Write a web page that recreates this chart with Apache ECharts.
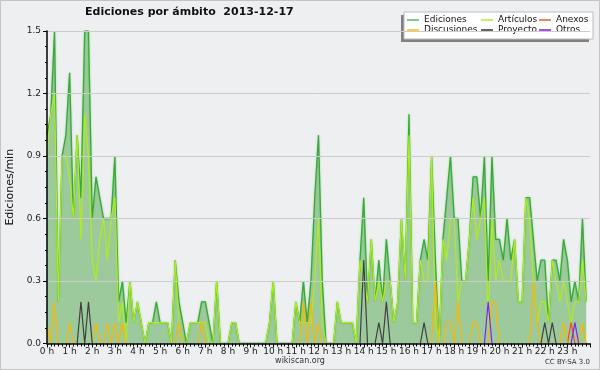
<!DOCTYPE html>
<html>
<head>
<meta charset="utf-8">
<script src="https://cdn.jsdelivr.net/npm/echarts@6/dist/echarts.min.js"></script>
<style>html,body{margin:0;padding:0;background:#eeeff1;}#c{width:600px;height:370px;}</style>
</head>
<body>
<div id="c"></div>
<script>
// 10-minute bins, values in edits/min
const ediciones = [
1.0,1.1,1.5,0.2,0.9,1.0,1.3,0.6,1.0,0.7,1.5,1.5,
0.6,0.8,0.7,0.6,0.6,0.6,0.9,0.2,0.3,0.1,0.3,0.1,
0.2,0.1,0,0.1,0.1,0.2,0.1,0.1,0.1,0,0.4,0.2,
0.1,0,0.1,0.1,0.1,0.2,0.2,0.1,0,0.3,0,0,
0,0.1,0.1,0,0,0,0,0,0,0,0,0.1,
0.3,0,0,0,0,0,0.2,0.1,0.3,0.1,0.3,0.7,
1.0,0.3,0,0,0,0.2,0.1,0.1,0.1,0.1,0,0.4,
0.7,0.2,0.5,0.2,0.4,0.2,0.5,0.3,0.1,0.2,0.6,0.3,
1.1,0.1,0.1,0.4,0.5,0.4,0.9,0.4,0,0.5,0.7,0.9,
0.6,0.6,0.3,0.3,0.5,0.8,0.8,0.6,0.9,0.3,0.9,0.5,
0.5,0.4,0.6,0.4,0.5,0.2,0.2,0.7,0.7,0.5,0.3,0.4,
0.4,0.1,0.4,0.4,0.3,0.5,0.4,0.2,0.3,0.2,0.6,0.2
];
const articulos = [
0.9,1.1,1.2,0.2,0.9,0.9,0.8,0.6,1.0,0.5,1.1,0.9,
0.4,0.3,0.5,0.6,0.4,0.6,0.7,0.1,0.2,0,0.3,0.1,
0.2,0.1,0,0.1,0.1,0.1,0.1,0.1,0.1,0,0.4,0.1,
0,0,0.1,0.1,0.1,0.1,0.1,0,0,0.3,0,0,
0,0.1,0.1,0,0,0,0,0,0,0,0,0.1,
0.3,0,0,0,0,0,0.2,0.1,0.1,0.1,0.1,0.3,
0.6,0.1,0,0,0,0.2,0.1,0.1,0.1,0.1,0,0.4,
0.3,0.2,0.5,0.2,0.3,0.2,0.3,0.3,0.1,0.2,0.6,0.3,
1.0,0.1,0.1,0.4,0.3,0.3,0.9,0.1,0,0.5,0.4,0.6,
0.6,0.2,0.3,0.3,0.5,0.7,0.5,0.6,0.7,0.1,0.6,0.3,
0.4,0.3,0.3,0.3,0.5,0.2,0.2,0.7,0.6,0.3,0.1,0.2,
0.2,0.1,0.4,0.3,0.2,0.3,0.2,0.1,0.2,0.2,0.4,0.2
];
const zeros = () => new Array(144).fill(0);
const discusiones = zeros();
[[0,0.1],[2,0.2],[6,0.1],[13,0.1],[16,0.1],[18,0.1],[20,0.1],[35,0.1],[41,0.1],
 [68,0.2],[70,0.2],[72,0.1],[103,0.3],[106,0.1],[107,0.1],[109,0.2],[113,0.1],[114,0.1],
 [118,0.2],[119,0.2],[129,0.3],[130,0.1],[137,0.1],[142,0.1]].forEach(([i,v])=>discusiones[i]=v);
const proyecto = zeros();
[[9,0.2],[11,0.2],[84,0.4],[88,0.1],[90,0.2],[100,0.1],[132,0.1],[134,0.1]].forEach(([i,v])=>proyecto[i]=v);
const anexos = zeros();
[[139,0.1]].forEach(([i,v])=>anexos[i]=v);
const otros = zeros();
[[117,0.2],[140,0.1]].forEach(([i,v])=>otros[i]=v);

const binsPerHour = 6;
const yTicks = [0, 0.3, 0.6, 0.9, 1.2, 1.5];

const toPairs = arr => arr.map((v,i)=>[i/binsPerHour, v]);
const FONT = 'DejaVu Sans';

const chart = echarts.init(document.getElementById('c'), null, {renderer:'canvas'});
const lineSeries = (name, data, color, z, extra) => Object.assign({
  name, type:'line', data: toPairs(data), symbol:'none', z,
  lineStyle:{color, width:1.2}, itemStyle:{color}, animation:false
}, extra||{});

const legendBase = {
  orient:'vertical', itemWidth:12, itemHeight:2, itemGap:0, icon:'rect', padding:0,
  textStyle:{fontFamily:FONT, fontSize:9, color:'#111', lineHeight:10, padding:[0,0,0,0]},
  selectedMode:false
};

chart.setOption({
  backgroundColor:'#eeeff1',
  animation:false,
  title:{text:'Ediciones por ámbito  2013-12-17', left:85, top:7, padding:0,
    textStyle:{fontFamily:FONT, fontSize:11, fontWeight:'bold', color:'#111'}},
  grid:{left:47, right:10, top:31, bottom:26.5, containLabel:false, outerBoundsMode:'none'},
  xAxis:{type:'value', min:0, max:24, interval:1, z:5,
    axisLine:{show:true, lineStyle:{color:'#000', width:1.5}},
    axisTick:{show:true, length:4, lineStyle:{color:'#000'}},
    minorTick:{show:true, splitNumber:6, length:3, lineStyle:{color:'#000'}},
    splitLine:{show:false},
    axisLabel:{fontFamily:FONT, fontSize:9, color:'#222', margin:4, showMaxLabel:false,
      formatter:v=> v>=24 ? '' : v+' h'}},
  yAxis:{type:'value', min:yTicks[0], max:yTicks[yTicks.length-1], interval:0.3, z:5,
    name:'Ediciones/min', nameLocation:'middle', nameGap:31, nameRotate:90,
    nameTextStyle:{fontFamily:FONT, fontSize:11, color:'#111'},
    axisLine:{show:true, lineStyle:{color:'#000', width:1.5}},
    axisTick:{show:true, length:4, lineStyle:{color:'#000'}},
    minorTick:{show:true, splitNumber:4, length:2, lineStyle:{color:'#000'}},
    splitLine:{show:true, lineStyle:{color:'#cccccc', width:1}},
    axisLabel:{fontFamily:FONT, fontSize:9, color:'#222', margin:6, formatter:v=>v.toFixed(1)}},
  legend:[
    Object.assign({}, legendBase, {left:407, top:15, data:[
      {name:'Ediciones', itemStyle:{color:'#80cc80'}},
      {name:'Discusiones', itemStyle:{color:'#ffcc44'}}]}),
    Object.assign({}, legendBase, {left:481, top:15, data:[
      {name:'Artículos', itemStyle:{color:'#ccee66'}},
      {name:'Proyecto', itemStyle:{color:'#666666'}}]}),
    Object.assign({}, legendBase, {left:539, top:15, data:[
      {name:'Anexos', itemStyle:{color:'#ee8855'}},
      {name:'Otros', itemStyle:{color:'#9955ee'}}]})
  ],
  graphic:[
    {type:'rect', shape:{x:0.5,y:0.5,width:599,height:369}, style:{fill:'none', stroke:'#c4c4c4'}, z:-1, silent:true},
    {type:'rect', shape:{x:401,y:15,width:188,height:27}, style:{fill:'#808080'}, z:0, silent:true},
    {type:'rect', shape:{x:404,y:12,width:189,height:27}, style:{fill:'#ffffff', stroke:'#bbbbbb'}, z:0, silent:true},
    {type:'text', x:300, y:361, style:{text:'wikiscan.org', fontFamily:FONT, fontSize:8, fill:'#333', align:'center', verticalAlign:'middle'}, silent:true},
    {type:'text', x:590, y:362, style:{text:'CC BY-SA 3.0', fontFamily:FONT, fontSize:7, fill:'#333', align:'right', verticalAlign:'middle'}, silent:true}
  ],
  series:[
    lineSeries('Ediciones', ediciones, '#3aa83a', 2, {
      areaStyle:{color:'#9dca9c', opacity:1},
      lineStyle:{color:'#3aa83a', width:1.3, shadowBlur:2, shadowColor:'rgba(80,190,80,0.6)'}}),
    lineSeries('Artículos', articulos, '#b0ec1c', 3),
    lineSeries('Anexos', anexos, '#ff4a10', 4),
    lineSeries('Discusiones', discusiones, '#f7b800', 4),
    lineSeries('Proyecto', proyecto, '#404040', 4),
    lineSeries('Otros', otros, '#7a22ff', 4)
  ]
});
</script>
</body>
</html>
